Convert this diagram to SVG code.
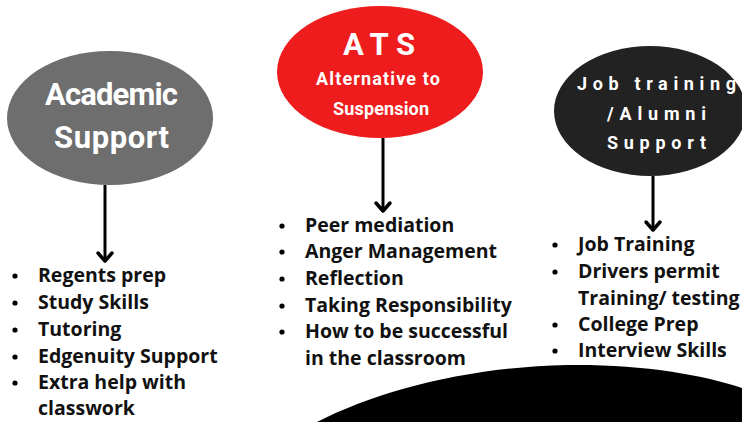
<svg xmlns="http://www.w3.org/2000/svg" width="742" height="422" viewBox="0 0 742 422">
<style>
.hd{font-family:Roboto,"DejaVu Sans",sans-serif;font-weight:bold;fill:#fff}
.li{font-family:"Open Sans","Liberation Sans",sans-serif;font-weight:bold;font-size:19.5px;fill:#111}
.conn{stroke:#000;stroke-width:3;fill:none}
.head{stroke:#000;stroke-width:3.5;fill:none;stroke-linecap:round;stroke-linejoin:round}
</style>
<rect width="742" height="422" fill="#fff"/>
<path d="M317 422 C380 390 470 367 567 365 C640 364 700 374 742 388 L742 422 Z" fill="#000"/>
<g id="connectors">
<line class="conn" x1="105" y1="185" x2="105" y2="260"/>
<polyline class="head" points="98,253 105,261 112,253"/>
<line class="conn" x1="383" y1="138" x2="383" y2="210"/>
<polyline class="head" points="376,203 383,211 390,203"/>
<line class="conn" x1="653" y1="176" x2="653" y2="229"/>
<polyline class="head" points="646,222 653,230 660,222"/>
</g>
<g id="academic">
<ellipse cx="110" cy="118" rx="103" ry="67" fill="#6e6e6e"/>
<text class="hd" x="45" y="105" font-size="31" textLength="133" lengthAdjust="spacing">Academic</text>
<text class="hd" x="54" y="148" font-size="31" textLength="115" lengthAdjust="spacing">Support</text>
</g>
<g id="ats">
<ellipse cx="380" cy="72" rx="103" ry="66" fill="#ee1c1c"/>
<text class="hd" x="343" y="55" font-size="31" textLength="72" lengthAdjust="spacing">ATS</text>
<text class="hd" x="316" y="85" font-size="18" textLength="124" lengthAdjust="spacing">Alternative to</text>
<text class="hd" x="333" y="115" font-size="18" textLength="96" lengthAdjust="spacing">Suspension</text>
</g>
<g id="job">
<ellipse cx="650" cy="111" rx="96" ry="65" fill="#222"/>
<text class="hd" x="577" y="90" font-size="18" textLength="159" lengthAdjust="spacing">Job training</text>
<text class="hd" x="607" y="120" font-size="18" textLength="99" lengthAdjust="spacing">/Alumni</text>
<text class="hd" x="607" y="149" font-size="18" textLength="99" lengthAdjust="spacing">Support</text>
</g>
<g id="list-academic">
<circle cx="15" cy="276" r="2.6"/><text class="li" x="38" y="282">Regents prep</text>
<circle cx="15" cy="303" r="2.6"/><text class="li" x="38" y="309">Study Skills</text>
<circle cx="15" cy="330" r="2.6"/><text class="li" x="38" y="336">Tutoring</text>
<circle cx="15" cy="357" r="2.6"/><text class="li" x="38" y="363">Edgenuity Support</text>
<circle cx="15" cy="383" r="2.6"/><text class="li" x="38" y="389">Extra help with</text>
<text class="li" x="38" y="415">classwork</text>
</g>
<g id="list-ats">
<circle cx="282" cy="226" r="2.6"/><text class="li" x="305" y="232">Peer mediation</text>
<circle cx="282" cy="252" r="2.6"/><text class="li" x="305" y="258">Anger Management</text>
<circle cx="282" cy="279" r="2.6"/><text class="li" x="305" y="285">Reflection</text>
<circle cx="282" cy="306" r="2.6"/><text class="li" x="305" y="312">Taking Responsibility</text>
<circle cx="282" cy="332" r="2.6"/><text class="li" x="305" y="338">How to be successful</text>
<text class="li" x="305" y="365">in the classroom</text>
</g>
<g id="list-job">
<circle cx="555" cy="245" r="2.6"/><text class="li" x="578" y="251">Job Training</text>
<circle cx="555" cy="272" r="2.6"/><text class="li" x="578" y="278">Drivers permit</text>
<text class="li" x="578" y="305">Training/ testing</text>
<circle cx="555" cy="325" r="2.6"/><text class="li" x="578" y="331">College Prep</text>
<circle cx="555" cy="351" r="2.6"/><text class="li" x="578" y="357">Interview Skills</text>
</g>
</svg>
